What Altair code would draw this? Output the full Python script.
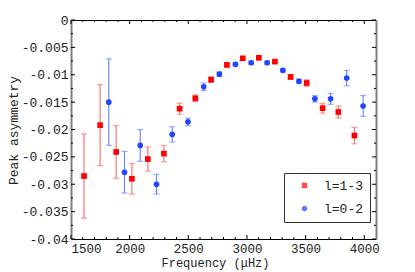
import altair as alt
import pandas as pd

# ---- data ----
red_freq = [1611, 1748, 1885, 2019, 2155, 2292, 2426, 2560, 2694, 2829, 2964, 3101, 3238, 3372, 3509, 3645, 3779, 3916]
red_val = [-0.0285, -0.0192, -0.0241, -0.0290, -0.0254, -0.0244, -0.0162, -0.0143, -0.0109, -0.0082,
           -0.0070, -0.0069, -0.0076, -0.0104, -0.0115, -0.0161, -0.0168, -0.0211]
red_err = [0.0077, 0.0074, 0.0048, 0.0028, 0.0022, 0.0015, 0.0010, 0.0006, 0.0005, 0.0004,
           0.0003, 0.0003, 0.0003, 0.0004, 0.0006, 0.0009, 0.0011, 0.0015]

blue_freq = [1822, 1956, 2090, 2229, 2363, 2497, 2631, 2765, 2902, 3036, 3172, 3306, 3443, 3579, 3713, 3850, 3990]
blue_val = [-0.0150, -0.0278, -0.0229, -0.0300, -0.0209, -0.0186, -0.0122, -0.0099, -0.0081, -0.0078,
            -0.0078, -0.0092, -0.0112, -0.0144, -0.0144, -0.0106, -0.0157]
blue_err = [0.0079, 0.0038, 0.0029, 0.0018, 0.0014, 0.0007, 0.0007, 0.0004, 0.0003, 0.0003,
            0.0003, 0.0003, 0.0004, 0.0006, 0.0010, 0.0014, 0.0019]

series_names = ["l=1-3", "l=0-2"]

x_major = [1500, 2000, 2500, 3000, 3500, 4000]
x_minor = [1600, 1700, 1800, 1900, 2100, 2200, 2300, 2400, 2600, 2700, 2800, 2900,
           3100, 3200, 3300, 3400, 3600, 3700, 3800, 3900]
y_major = [0, -0.005, -0.01, -0.015, -0.02, -0.025, -0.03, -0.035, -0.04]
y_minor = [-0.0025, -0.0075, -0.0125, -0.0175, -0.0225, -0.0275, -0.0325, -0.0375]

# ---- tables ----
rows = []
for f, v, e in zip(red_freq, red_val, red_err):
    rows.append({"freq": f, "val": v, "lo": v - e, "hi": v + e, "series": series_names[0], "ecolor": "#ff7070"})
for f, v, e in zip(blue_freq, blue_val, blue_err):
    rows.append({"freq": f, "val": v, "lo": v - e, "hi": v + e, "series": series_names[1], "ecolor": "#7088ff"})
df = pd.DataFrame(rows)

W, H = 305, 219
FONT = "Liberation Mono"
TXT = "#222222"

xscale = alt.Scale(domain=[1500, 4100], nice=False, zero=False)
yscale = alt.Scale(domain=[-0.04, 0], nice=False, zero=False)

xaxis = alt.Axis(values=x_major, format="d", title="Frequency (\u03bcHz)", ticks=False, tickSize=0,
                 grid=False, domainColor="#000000", domainWidth=1, labelPadding=3,
                 labelFont=FONT, labelFontSize=12.5, labelColor=TXT,
                 titleFont=FONT, titleFontSize=12, titleFontWeight="normal", titleColor=TXT,
                 titleX=144, titleY=23, titleBaseline="middle")
yaxis = alt.Axis(values=y_major, labelExpr="toString(datum.value)", title="Peak asymmetry",
                 ticks=False, tickSize=0, grid=False, domainColor="#808080", domainWidth=2,
                 labelPadding=3, labelFont=FONT, labelFontSize=13, labelColor=TXT,
                 titleFont=FONT, titleFontSize=13, titleFontWeight="normal", titleColor=TXT,
                 titleX=-58, titleY=110, titleBaseline="middle", titleAngle=-90)


def X(field):
    return alt.X(field, type="quantitative", scale=xscale, axis=xaxis)


def Y(field):
    return alt.Y(field, type="quantitative", scale=yscale, axis=yaxis)


base = alt.Chart(df)

err_rules = base.mark_rule(strokeWidth=1.2).encode(
    x=X("freq"), y=Y("lo"), y2="hi", color=alt.Color("ecolor:N", scale=None)
)
cap_lo = base.mark_tick(orient="horizontal", size=6, thickness=1.2).encode(
    x=X("freq"), y=Y("lo"), color=alt.Color("ecolor:N", scale=None)
)
cap_hi = base.mark_tick(orient="horizontal", size=6, thickness=1.2).encode(
    x=X("freq"), y=Y("hi"), color=alt.Color("ecolor:N", scale=None)
)

points = base.mark_point(filled=True, opacity=1, size=32).encode(
    x=X("freq"),
    y=Y("val"),
    color=alt.Color("series:N", scale=alt.Scale(domain=series_names, range=["#ff0000", "#1f45ff"]),
                    legend=alt.Legend(title=None, orient="none", legendX=213, legendY=153,
                                      strokeColor="#333333", fillColor="#ffffff", padding=6,
                                      rowPadding=9, symbolOffset=8, labelOffset=13,
                                      labelFont=FONT, labelFontSize=13, labelColor=TXT,
                                      symbolSize=30, symbolStrokeWidth=0)),
    shape=alt.Shape("series:N", scale=alt.Scale(domain=series_names, range=["square", "circle"])),
)

xmaj_df = pd.DataFrame({"v": x_major})
xmin_df = pd.DataFrame({"v": x_minor})
ymaj_df = pd.DataFrame({"v": y_major})
ymin_df = pd.DataFrame({"v": y_minor})

TK = dict(color="#000000", strokeWidth=1)

xb_maj = alt.Chart(xmaj_df).mark_rule(**TK).encode(x=X("v"), y=alt.value(H), y2=alt.value(H - 4))
xb_min = alt.Chart(xmin_df).mark_rule(**TK).encode(x=X("v"), y=alt.value(H), y2=alt.value(H - 2))
yl_maj = alt.Chart(ymaj_df).mark_rule(**TK).encode(y=Y("v"), x=alt.value(0), x2=alt.value(4))
yl_min = alt.Chart(ymin_df).mark_rule(**TK).encode(y=Y("v"), x=alt.value(0), x2=alt.value(2))

inner = alt.layer(err_rules, cap_lo, cap_hi, xb_maj, xb_min, yl_maj, yl_min, points)

top_axis = alt.Axis(orient="top", labels=False, ticks=False, title=None, grid=False,
                    domainColor="#000000", domainWidth=1)
right_axis = alt.Axis(orient="right", labels=False, ticks=False, title=None, grid=False,
                      domainColor="#808080", domainWidth=2)

xt_maj = alt.Chart(xmaj_df).mark_rule(**TK).encode(
    x=alt.X("v:Q", scale=xscale, axis=top_axis), y=alt.value(0), y2=alt.value(4))
xt_min = alt.Chart(xmin_df).mark_rule(**TK).encode(
    x=alt.X("v:Q", scale=xscale, axis=top_axis), y=alt.value(0), y2=alt.value(2))
top = alt.layer(xt_maj, xt_min)

yr_maj = alt.Chart(ymaj_df).mark_rule(**TK).encode(
    y=alt.Y("v:Q", scale=yscale, axis=right_axis), x=alt.value(W - 4), x2=alt.value(W))
yr_min = alt.Chart(ymin_df).mark_rule(**TK).encode(
    y=alt.Y("v:Q", scale=yscale, axis=right_axis), x=alt.value(W - 2), x2=alt.value(W))
right = alt.layer(yr_maj, yr_min)

chart = alt.layer(inner, top, right).resolve_axis(x="independent", y="independent").properties(
    width=W, height=H,
    autosize=alt.AutoSizeParams(type="none"),
    padding={"left": 63, "top": 12, "right": 20, "bottom": 31},
    background="#ffffff",
).configure_view(stroke=None)

chart.save("out.html", embed_options={"renderer": "svg", "actions": False})
